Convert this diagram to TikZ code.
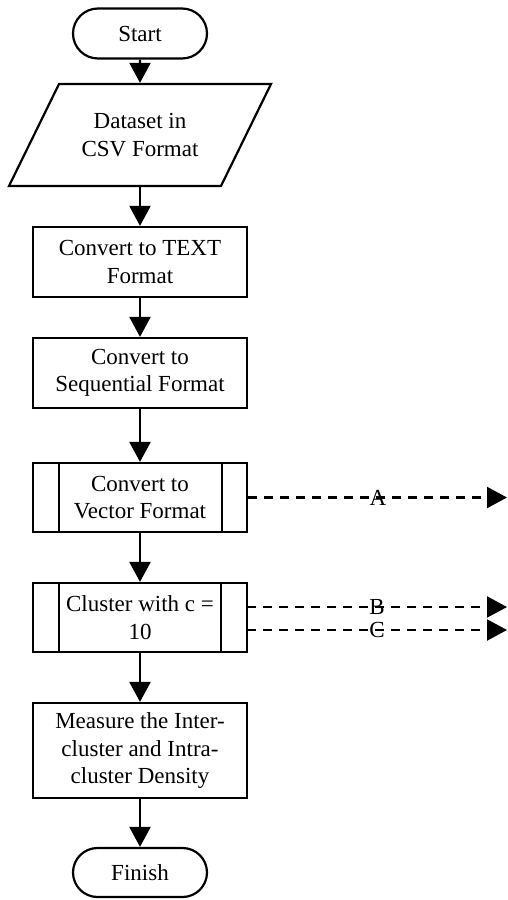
\documentclass[tikz,border=0pt]{standalone}
\usepackage{fontspec}
\setmainfont{Liberation Serif}
\usetikzlibrary{shapes.misc,arrows.meta,calc}
\begin{document}
\begin{tikzpicture}[x=1pt,y=-1pt,
  every node/.style={font=\fontsize{23pt}{27.5pt}\selectfont, align=center, inner sep=0pt},
  lw/.style={line width=2.2pt},
  term/.style={lw, draw, rounded rectangle, minimum width=134pt, minimum height=50pt},
  procbox/.style={lw, draw, rectangle, minimum width=214pt, minimum height=70pt},
  flow/.style={lw, -{Triangle[length=20pt,width=21pt]}},
  dflow/.style={lw, dash pattern=on 9pt off 7pt, -{Triangle[length=20pt,width=21pt]}}
]
\useasboundingbox (0,0) rectangle (507,900);

\node[term] (start) at (140,33.5) {Start};
\node[lw, minimum width=212pt, minimum height=102pt] (data) at (140,135) {Dataset in\\CSV Format};
\draw[lw, line join=miter] ($(data.center)+(-81,-51)$) -- ($(data.center)+(131,-51)$)
   -- ($(data.center)+(81,51)$) -- ($(data.center)+(-131,51)$) -- cycle;
\node[procbox] (text) at (140,262) {Convert to TEXT\\Format};
\node[procbox] (seq) at (140,373) {Convert to\\Sequential Format};
\node[procbox, minimum height=69pt] (vec) at (140,497.5) {Convert to\\Vector Format};
\draw[lw] ([xshift=27pt]vec.north west) -- ([xshift=27pt]vec.south west);
\draw[lw] ([xshift=-26pt]vec.north east) -- ([xshift=-26pt]vec.south east);
\node[procbox, minimum height=69pt] (clu) at (140,617.5) {Cluster with c =\\10};
\draw[lw] ([xshift=27pt]clu.north west) -- ([xshift=27pt]clu.south west);
\draw[lw] ([xshift=-27pt]clu.north east) -- ([xshift=-27pt]clu.south east);
\node[procbox, minimum height=95pt] (meas) at (140,750.5) {Measure the Inter-\\cluster and Intra-\\cluster Density};
\node[term, minimum height=49pt] (fin) at (140,872.5) {Finish};

\draw[flow] (start) -- (data);
\draw[flow] (data) -- (text);
\draw[flow] (text) -- (seq);
\draw[flow] (seq) -- (vec);
\draw[flow] (vec) -- (clu);
\draw[flow] (clu) -- (meas);
\draw[flow] (meas) -- (fin);

\coordinate (aend) at (507,497.5);
\coordinate (bstart) at (247,607);
\coordinate (bend) at (507,607);
\coordinate (cstart) at (247,630);
\coordinate (cend) at (507,630);
\draw[dflow] (vec.east) -- (aend);
\draw[dflow] (bstart) -- (bend);
\draw[dflow] (cstart) -- (cend);
\node (la) at (378,497.5) {A};
\node (lb) at (377,607) {B};
\node (lc) at (377,630) {C};
\end{tikzpicture}
\end{document}
